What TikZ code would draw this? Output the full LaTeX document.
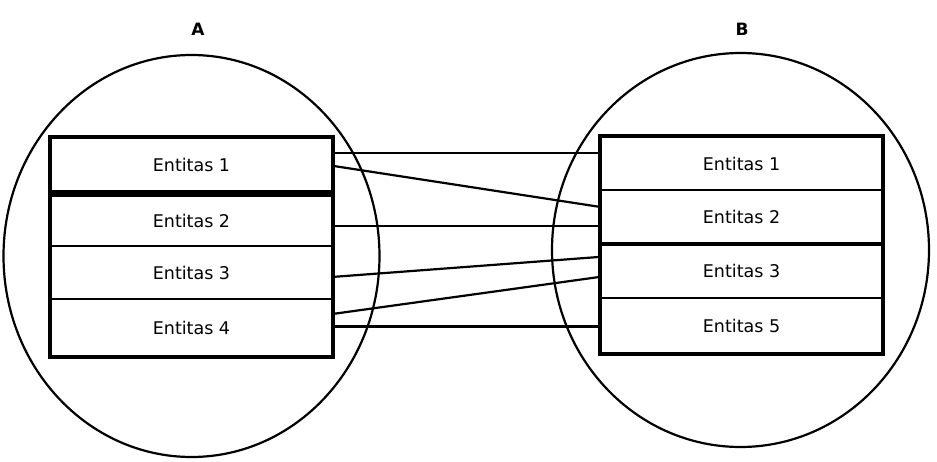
\documentclass[tikz,border=0pt]{standalone}
\usepackage{fontspec}
\setmainfont{DejaVu Sans}
\usetikzlibrary{shapes.geometric}
\begin{document}
\begin{tikzpicture}[x=1pt,y=-1pt,
  set/.style={draw,ellipse,line width=2.2pt,inner sep=0pt},
  row/.style={draw,rectangle,line width=2.2pt,minimum width=281pt,inner sep=0pt,font=\fontsize{17.5}{20}\selectfont},
  link/.style={line width=2.2pt},
  lbl/.style={font=\fontsize{17}{20}\selectfont\bfseries}]
\useasboundingbox (0,0) rectangle (937,462);
% sets
\node[set,minimum width=376pt,minimum height=402pt] (cA) at (191.5,256) {};
\node[set,minimum width=377pt,minimum height=394pt] (cB) at (740.5,250) {};
\node[lbl] (tA) at (198,29) {A};
\node[lbl] (tB) at (742,29) {B};
% left rows
\node[row,minimum height=53pt] (L1) at (191.5,164.5) {Entitas 1};
\node[row,minimum height=50pt] (L2) at (191.5,221) {Entitas 2};
\node[row,minimum height=53pt] (L3) at (191.5,272.5) {Entitas 3};
\node[row,minimum height=57pt] (L4) at (191.5,327.5) {Entitas 4};
\draw[line width=3.2pt] (L1.north west) rectangle (L4.south east);
\draw[line width=4.5pt] (L1.south west) -- (L1.south east);
\draw[line width=4.5pt] (L2.north west) -- (L2.north east);
% right rows
\node[row,minimum height=53pt] (R1) at (741.5,163.5) {Entitas 1};
\node[row,minimum height=53pt] (R2) at (741.5,216.5) {Entitas 2};
\node[row,minimum height=55pt] (R3) at (741.5,270.5) {Entitas 3};
\node[row,minimum height=55pt] (R4) at (741.5,325.5) {Entitas 5};
\draw[line width=3.2pt] (R1.north west) rectangle (R4.south east);
\draw[line width=3.8pt] (R2.south west) -- (R2.south east);
% connectors
\draw[link] ([yshift=-16pt]L1.north east) -- ([yshift=-17pt]R1.north west);
\draw[link] ([yshift=-29pt]L1.north east) -- ([yshift=-18pt]R2.north west);
\draw[link] ([yshift=-31pt]L2.north east) -- ([yshift=-37pt]R2.north west);
\draw[link] ([yshift=-32pt]L3.north east) -- ([yshift=-15pt]R3.north west);
\draw[link] ([yshift=-16pt]L4.north east) -- ([yshift=-35pt]R3.north west);
\draw[link,line width=3.2pt] ([yshift=-29pt]L4.north east) -- ([yshift=-30pt]R4.north west);
\end{tikzpicture}
\end{document}
